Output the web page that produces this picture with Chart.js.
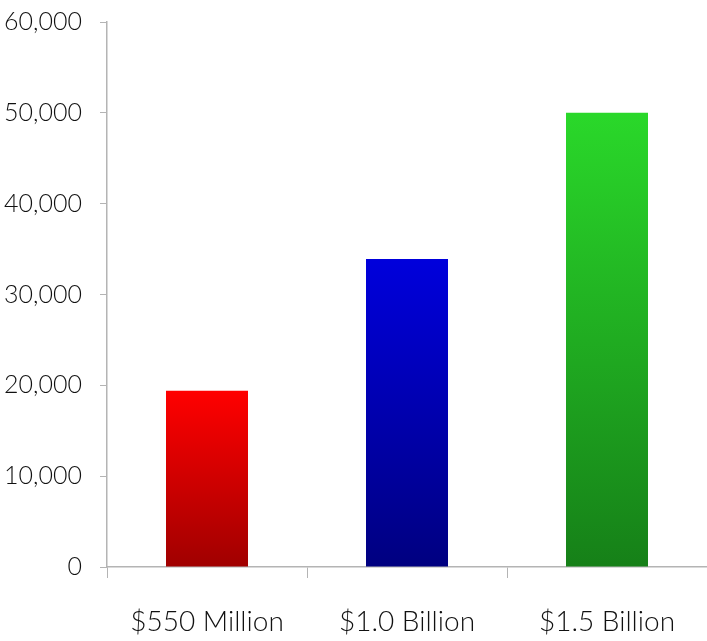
<!DOCTYPE html>
<html>
<head>
<meta charset="utf-8">
<script src="https://cdn.jsdelivr.net/npm/chart.js@4.4.0/dist/chart.umd.min.js"></script>
<style>
    html, body { margin: 0; padding: 0; background: #ffffff; }
    #wrap { width: 707px; height: 641px; }
</style>
</head>
<body>
<div id="wrap"><canvas id="budgetChart"></canvas></div>
<script>
// Datos del gráfico
const categories = ['$550 Million', '$1.0 Billion', '$1.5 Billion'];
const values = [19400, 33900, 50000];
const topColors = ['#ff0000', '#0000dc', '#2ad82a'];
const bottomColors = ['#a00000', '#000080', '#168018'];
const yTicks = [0, 10000, 20000, 30000, 40000, 50000, 60000];

const axisGray = '#b4b4b4';

function barGradient(ctx) {
    const chart = ctx.chart;
    const yScale = chart.scales.y;
    if (!chart.chartArea || !yScale) return topColors[ctx.dataIndex];
    const top = yScale.getPixelForValue(values[ctx.dataIndex]);
    const bottom = yScale.getPixelForValue(0);
    const g = chart.ctx.createLinearGradient(0, top, 0, bottom);
    g.addColorStop(0, topColors[ctx.dataIndex]);
    g.addColorStop(1, bottomColors[ctx.dataIndex]);
    return g;
}

new Chart(document.getElementById('budgetChart').getContext('2d'), {
    type: 'bar',
    data: {
        labels: categories,
        datasets: [{
            data: values,
            backgroundColor: barGradient,
            borderWidth: 0,
            categoryPercentage: 1,
            barPercentage: 0.41
        }]
    },
    options: {
        responsive: true,
        maintainAspectRatio: false,
        animation: false,
        layout: { autoPadding: false, padding: { top: 22, right: 0, left: 0, bottom: 0 } },
        plugins: {
            legend: { display: false },
            tooltip: { enabled: false }
        },
        scales: {
            x: {
                grid: {
                    drawOnChartArea: false,
                    drawTicks: true,
                    tickLength: 11,
                    color: axisGray,
                    offset: true
                },
                border: { color: axisGray, width: 1.5 },
                ticks: {
                    color: '#111',
                    font: { family: 'Lato', size: 28, weight: '300' },
                    padding: 27,
                    maxRotation: 0
                },
                afterFit: function(scale) {
                    scale.height = 74;
                    scale.paddingLeft = 0;
                    scale.paddingRight = 0;
                }
            },
            y: {
                min: 0,
                max: 60000,
                afterBuildTicks: function(scale) {
                    scale.ticks = yTicks.map(v => ({ value: v }));
                },
                grid: {
                    drawOnChartArea: false,
                    drawTicks: true,
                    tickLength: 7,
                    color: axisGray
                },
                border: { color: axisGray, width: 1.5 },
                ticks: {
                    color: '#111',
                    font: { family: 'Lato', size: 25, weight: '300' },
                    padding: 18,
                    callback: function(value) {
                        return value.toLocaleString('en-US');
                    }
                },
                afterFit: function(scale) {
                    scale.width = 107;
                    scale.paddingTop = 0;
                    scale.paddingBottom = 0;
                }
            }
        }
    }
});
</script>
</body>
</html>
